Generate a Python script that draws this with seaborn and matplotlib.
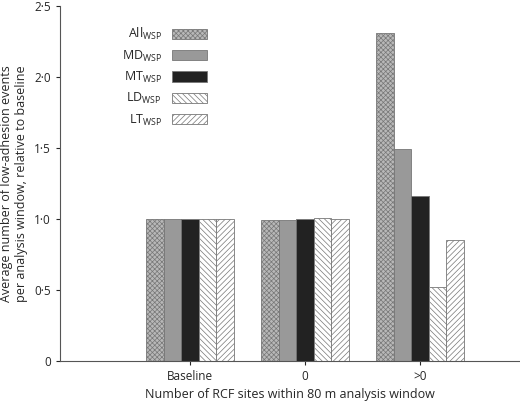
import matplotlib
matplotlib.use("Agg")
import matplotlib.pyplot as plt
import seaborn as sns
import pandas as pd

categories = ["Baseline", "0", ">0"]
series = ["All", "MD", "MT", "LD", "LT"]
values = {
    "All": [1.00, 0.99, 2.31],
    "MD": [1.00, 0.99, 1.49],
    "MT": [1.00, 1.00, 1.16],
    "LD": [1.00, 1.01, 0.52],
    "LT": [1.00, 1.00, 0.85],
}
colors = {"All": "#b8b8b8", "MD": "#999999", "MT": "#222222", "LD": "white", "LT": "white"}
hatches = {"All": "xxxxxxx", "MD": "", "MT": "", "LD": "\\\\\\\\\\\\", "LT": "//////"}

rows = []
for s in series:
    for c, v in zip(categories, values[s]):
        rows.append({"cat": c, "series": s, "val": v})
df = pd.DataFrame(rows)

sns.set_style("ticks")
plt.rcParams["font.family"] = ["Open Sans", "DejaVu Sans"]
plt.rcParams["hatch.color"] = "#555555"
plt.rcParams["hatch.linewidth"] = 0.5

fig, ax = plt.subplots(figsize=(5.2, 4.01), dpi=100)
sns.barplot(data=df, x="cat", y="val", hue="series", order=categories,
            hue_order=series, palette=colors, width=0.76, ax=ax,
            edgecolor="#777777", linewidth=0.6, legend=True)

for cont, s in zip(ax.containers, series):
    for bar in cont:
        bar.set_hatch(hatches[s])

handles, _ = ax.get_legend_handles_labels()
for h, s in zip(handles, series):
    h.set_hatch(hatches[s])
ax.legend(handles, [s + r"$_{\mathregular{WSP}}$" for s in series],
          loc="upper left", bbox_to_anchor=(0.11, 0.975), frameon=False,
          markerfirst=False, handlelength=2.8, handleheight=0.9,
          fontsize=9, labelspacing=0.5)

ax.set_xlim(-1.13, 2.87)
ax.set_ylim(0, 2.5)
ax.set_yticks([0, 0.5, 1.0, 1.5, 2.0, 2.5])
ax.set_yticklabels(["0", "0·5", "1·0", "1·5", "2·0", "2·5"])
ax.tick_params(labelsize=8.5, direction="out", length=3)
ax.set_xlabel("Number of RCF sites within 80 m analysis window", fontsize=9)
ax.set_ylabel("Average number of low-adhesion events\nper analysis window, relative to baseline", fontsize=9)
sns.despine(ax=ax)
ax.spines["bottom"].set_color("#555555")
ax.spines["left"].set_color("#555555")
fig.subplots_adjust(left=0.115, right=1.0, top=0.985, bottom=0.1)
fig.savefig("out.png", dpi=100)
